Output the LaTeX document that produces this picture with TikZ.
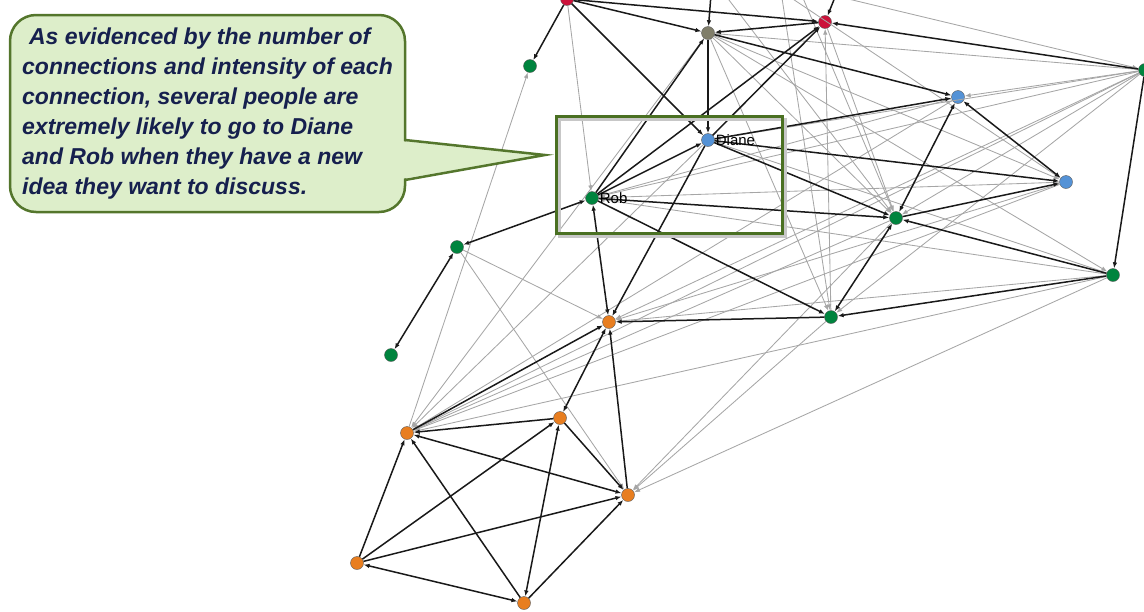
\documentclass[tikz,border=0pt]{standalone}
\usepackage{fontspec}
\setmainfont{Liberation Sans}
\usepackage{tikz}
\usetikzlibrary{positioning,arrows.meta,shapes}

\definecolor{persongreen}{RGB}{0,132,62}
\definecolor{personblue}{RGB}{84,146,214}
\definecolor{personorange}{RGB}{232,126,32}
\definecolor{personred}{RGB}{204,18,58}
\definecolor{persongrey}{RGB}{128,126,106}
\definecolor{calloutfill}{RGB}{221,238,202}
\definecolor{calloutline}{RGB}{84,118,44}
\definecolor{focusline}{RGB}{74,112,34}
\definecolor{textnavy}{RGB}{22,32,78}

\begin{document}
\begin{tikzpicture}[x=1pt, y=-1pt, >={Latex[length=6pt,width=4.5pt]},
    person/.style={circle, draw=black!65, line width=0.4pt, minimum size=13pt, inner sep=0pt},
    strong/.style={draw=black!90, line width=1.5pt},
    weak/.style={draw=black!35, line width=0.85pt},
    tag/.style={font=\fontsize{15}{18}\selectfont, inner sep=1pt},
    callout/.style={draw=calloutline, line width=2.5pt, fill=calloutfill, rounded corners=26pt,
        minimum width=395pt, minimum height=197pt, align=left, text=textnavy,
        font=\fontsize{23}{30}\selectfont\bfseries\itshape},
    focus/.style={draw=focusline, line width=3pt}]
    \useasboundingbox (0,0) rectangle (1144,611);
    \clip (0,0) rectangle (1144,611);

    % Nodes
    \node [person, fill=personred] (red1) at (567,-1) {};
    \node [person, fill=persongrey] (hub) at (708,33) {};
    \node [person, fill=personred] (red2) at (825,22) {};
    \node [person, fill=persongreen] (green1) at (530,66) {};
    \node [person, fill=persongreen] (green2) at (1145,70) {};
    \node [person, fill=personblue] (blue1) at (958,97) {};
    \node [person, fill=personblue] (diane) at (708,140) {};
    \node [person, fill=personblue] (blue2) at (1066,182) {};
    \node [person, fill=persongreen] (rob) at (592,198) {};
    \node [person, fill=persongreen] (green3) at (896,218) {};
    \node [person, fill=persongreen] (green4) at (457,247) {};
    \node [person, fill=persongreen] (green5) at (1113,275) {};
    \node [person, fill=persongreen] (green6) at (831,317) {};
    \node [person, fill=personorange] (orange1) at (609,322) {};
    \node [person, fill=persongreen] (green7) at (391,355) {};
    \node [person, fill=personorange] (orange2) at (407,433) {};
    \node [person, fill=personorange] (orange3) at (560,418) {};
    \node [person, fill=personorange] (orange4) at (628,495) {};
    \node [person, fill=personorange] (orange5) at (357,563) {};
    \node [person, fill=personorange] (orange6) at (524,603) {};
    \coordinate (up1) at (716,-70);
    \coordinate (up2) at (850,-40);
    \coordinate (up3) at (560,-70);
    \coordinate (up4) at (770,-80);
    \coordinate (up5) at (660,-90);

    % Weak ties
    \draw [weak, ->] (red1) -- (rob);
    \draw [weak, ->] (orange2) -- (green1);
    \draw [weak, ->] (green4) -- (orange1);
    \draw [weak, ->] (green4) -- (orange4);
    \draw [weak, ->] (hub) -- (green3);
    \draw [weak, ->] (hub) -- (green6);
    \draw [weak, ->] (hub) -- (green5);
    \draw [weak, ->] (hub) -- (blue2);
    \draw [weak, ->] (hub) -- (orange2);
    \draw [weak, ->] (diane) -- (orange2);
    \draw [weak, ->] (green6) -- (red2);
    \draw [weak, ->] (red2) -- (green3);
    \draw [weak, ->] (green2) -- (diane);
    \draw [weak, ->] (green2) -- (rob);
    \draw [weak, ->] (green2) -- (green3);
    \draw [weak, ->] (green2) -- (green6);
    \draw [weak, ->] (green2) -- (blue1);
    \draw [weak, ->] (green2) -- (orange1);
    \draw [weak, ->] (green2) -- (orange2);
    \draw [weak, ->] (green2) -- (hub);
    \draw [weak, ->] (green5) -- (rob);
    \draw [weak, ->] (green5) -- (diane);
    \draw [weak, ->] (green5) -- (orange1);
    \draw [weak, ->] (green5) -- (orange2);
    \draw [weak, ->] (green5) -- (orange4);
    \draw [weak, ->] (green6) -- (orange4);
    \draw [weak, ->] (green3) -- (orange4);
    \draw [weak, ->] (green3) -- (orange2);
    \draw [weak, ->] (blue1) -- (rob);
    \draw [weak, ->] (blue1) -- (orange2);
    \draw [weak, ->] (blue2) -- (rob);
    \draw [weak, ->] (blue2) -- (orange1);
    \draw [weak, ->] (blue2) -- (orange2);
    \draw [weak, ->] (up3) -- (green2);
    \draw [weak, ->] (up4) -- (green3);
    \draw [weak, ->] (up4) -- (green6);
    \draw [weak, ->] (up5) -- (green3);
    \draw [weak, ->] (up5) -- (blue2);

    % Strong ties
    \draw [strong, ->] (red1) -- (green1);
    \draw [strong, ->] (red1) -- (hub);
    \draw [strong, ->] (red1) -- (red2);
    \draw [strong, ->] (red1) -- (diane);
    \draw [strong, ->] (hub) -- (diane);
    \draw [strong, ->] (red2) -- (hub);
    \draw [strong, ->] (up1) -- (hub);
    \draw [strong, ->] (up2) -- (red2);
    \draw [strong, ->] (green2) -- (red2);
    \draw [strong, ->] (hub) -- (blue1);
    \draw [strong, ->] (rob) -- (hub);
    \draw [strong, ->] (rob) -- (red2);
    \draw [strong, ->] (diane) -- (red2);
    \draw [strong, ->] (rob) -- (diane);
    \draw [strong, ->] (diane) -- (blue1);
    \draw [strong, ->] (diane) -- (blue2);
    \draw [strong, ->] (diane) -- (green3);
    \draw [strong, ->] (rob) -- (green3);
    \draw [strong, <->] (blue1) -- (green3);
    \draw [strong, <->] (blue1) -- (blue2);
    \draw [strong, ->] (green3) -- (blue2);
    \draw [strong, ->] (green5) -- (green3);
    \draw [strong, ->] (green2) -- (green5);
    \draw [strong, ->] (green5) -- (green6);
    \draw [strong, <->] (green3) -- (green6);
    \draw [strong, ->] (rob) -- (green6);
    \draw [strong, ->] (green6) -- (orange1);
    \draw [strong, <->] (rob) -- (orange1);
    \draw [strong, ->] (diane) -- (orange1);
    \draw [strong, <->] (rob) -- (green4);
    \draw [strong, <->] (green4) -- (green7);
    \draw [strong, ->] (orange2) -- (orange1);
    \draw [strong, <->] (orange1) -- (orange3);
    \draw [strong, ->] (orange4) -- (orange1);
    \draw [strong, ->] (orange3) -- (orange2);
    \draw [strong, <->] (orange2) -- (orange4);
    \draw [strong, ->] (orange3) -- (orange4);
    \draw [strong, ->] (orange5) -- (orange2);
    \draw [strong, ->] (orange5) -- (orange3);
    \draw [strong, ->] (orange5) -- (orange4);
    \draw [strong, <->] (orange6) -- (orange5);
    \draw [strong, ->] (orange6) -- (orange2);
    \draw [strong, <->] (orange6) -- (orange3);
    \draw [strong, ->] (orange6) -- (orange4);

    % Names
    \node [tag, right=0pt of diane] (dianetag) {Diane};
    \node [tag, right=0pt of rob] (robtag) {Rob};

    % Focus box round Diane and Rob
    \draw [black!22, line width=3pt] (559,119) rectangle (785,236);
    \draw [focus] (556,116) rectangle (782,233);

    % Callout
    \node [callout] (note) at (207.5,113.5) {\hspace*{0.3em}As evidenced by the number of\\
        connections and intensity of each\\
        connection, several people are\\
        extremely likely to go to Diane\\
        and Rob when they have a new\\
        idea they want to discuss.};
    \coordinate (tip) at (545,155);
    \fill [calloutfill] (401,141) -- (tip) -- (401,179) -- cycle;
    \draw [calloutline, line width=2.5pt, line join=miter] (405,140) -- (tip) -- (405,180);
\end{tikzpicture}
\end{document}
